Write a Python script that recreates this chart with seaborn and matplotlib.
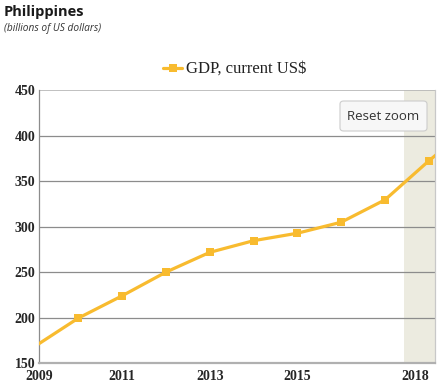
import matplotlib
matplotlib.use("Agg")
import matplotlib.pyplot as plt
import seaborn as sns
import pandas as pd
from matplotlib.patches import FancyBboxPatch

years = [2009, 2010, 2011, 2012, 2013, 2014, 2015, 2016, 2017, 2018, 2019]
gdp = [168.3, 199.6, 224.1, 250.1, 271.8, 284.6, 292.8, 304.9, 329.5, 372.3, 412.0]
series_name = "GDP, current US$"
y_ticks = [150, 200, 250, 300, 350, 400, 450]
x_tick_labels = ["2009", "2011", "2013", "2015", "2018"]

df = pd.DataFrame({"year": years, "gdp": gdp})

sns.set_style("white")
plt.rcParams["font.family"] = ["DejaVu Sans"]

line_color = "#f8bb2f"
serif = ["Liberation Serif", "DejaVu Serif"]

fig = plt.figure(figsize=(4.48, 3.86), dpi=100)
ax = fig.add_axes([0.0877, 0.0588, 0.8833, 0.708])

x_min, x_max = 2009.11, 2018.14
ax.axvspan(2017.43, x_max, color="#ecebe0", zorder=0, lw=0)

for v in y_ticks[1:-1]:
    ax.axhline(v, color="#8c8c8c", lw=0.9, zorder=1)
ax.axhline(450, color="#b5b5b5", lw=1.2, zorder=1)

sns.lineplot(data=df, x="year", y="gdp", ax=ax, color=line_color, lw=2.3,
             marker="s", markersize=6, markeredgewidth=0, zorder=3, legend=False)

ax.set_xlim(x_min, x_max)
ax.set_ylim(150, 450)
ax.set_yticks(y_ticks)
ax.set_yticklabels([str(v) for v in y_ticks], fontfamily=serif, fontweight="bold", fontsize=10)
ax.set_xticks([x_min, 2011, 2013, 2015, 2018])
ax.set_xticklabels(x_tick_labels, fontfamily=serif, fontweight="bold", fontsize=10)
ax.get_xticklabels()[-1].set_ha("right")
ax.get_xticklabels()[-1].set_x(x_max)
ax.tick_params(axis="x", length=3, width=0.8, color="#999999", pad=1.5)
ax.tick_params(axis="y", length=0, pad=3)
ax.set_xlabel("")
ax.set_ylabel("")

ax.spines["top"].set_visible(False)
ax.spines["right"].set_color("#c8c8c8")
ax.spines["right"].set_linewidth(0.9)
ax.spines["left"].set_color("#8c8c8c")
ax.spines["left"].set_linewidth(0.9)
ax.spines["bottom"].set_color("#b0b0b0")
ax.spines["bottom"].set_linewidth(1.6)

# reset zoom button
btn = FancyBboxPatch((340 / 448, 1 - 131 / 386), 87 / 448, 30 / 386,
                     boxstyle="round,pad=0,rounding_size=0.008",
                     transform=fig.transFigure, facecolor="#f7f7f7",
                     edgecolor="#cccccc", lw=0.8, zorder=5)
fig.patches.append(btn)
fig.text(383.5 / 448, 1 - 116 / 386, "Reset zoom", ha="center", va="center",
         fontsize=9.5, color="#333333", fontfamily="Open Sans", zorder=6)

# legend
fig.lines.append(plt.Line2D([163 / 448, 182 / 448], [1 - 68 / 386] * 2,
                            transform=fig.transFigure, color=line_color, lw=2.3))
fig.lines.append(plt.Line2D([172.5 / 448], [1 - 68 / 386], transform=fig.transFigure,
                            color=line_color, marker="s", markersize=6, markeredgewidth=0))
fig.text(186 / 448, 1 - 69 / 386, series_name, ha="left", va="center",
         fontsize=12, fontfamily=serif, color="#222222")

fig.text(4 / 448, 1 - 12 / 386, "Philippines", ha="left", va="center",
         fontsize=10.5, fontweight="bold", fontfamily="Open Sans", color="#1a1a1a")
fig.text(4 / 448, 1 - 29 / 386, "(billions of US dollars)", ha="left", va="center",
         fontsize=7.3, fontstyle="italic", fontfamily="Open Sans", color="#333333")

fig.savefig("out.png", dpi=100)
